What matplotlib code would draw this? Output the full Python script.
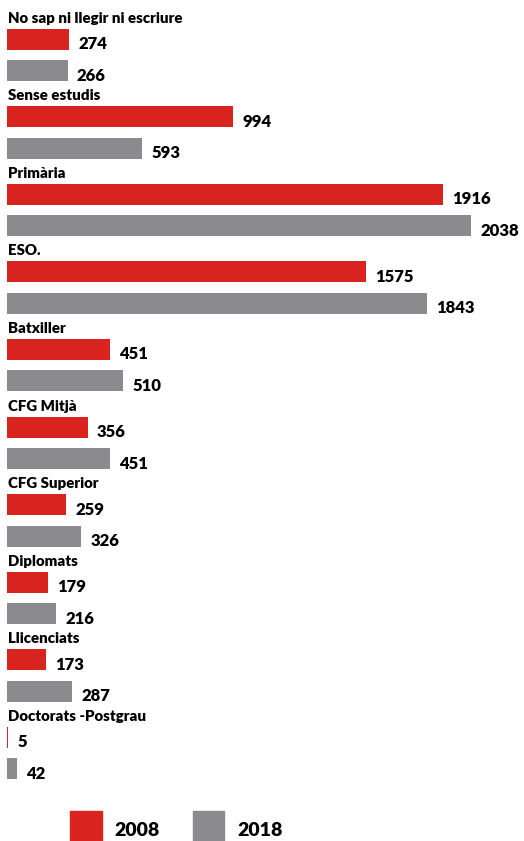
import matplotlib
matplotlib.use('Agg')
import matplotlib.pyplot as plt
from matplotlib.patches import Rectangle

categories = ['No sap ni llegir ni escriure', 'Sense estudis', 'Primària', 'ESO.',
              'Batxiller', 'CFG Mitjà', 'CFG Superior', 'Diplomats',
              'Llicenciats', 'Doctorats -Postgrau']
v2008 = [274, 994, 1916, 1575, 451, 356, 259, 179, 173, 5]
v2018 = [266, 593, 2038, 1843, 510, 451, 326, 216, 287, 42]
years = ['2008', '2018']

red = '#d8231f'
gray = '#8b8b8f'

plt.rcParams['font.family'] = ['Lato', 'DejaVu Sans']

fig = plt.figure(figsize=(5.24, 8.41), dpi=100)
ax = fig.add_axes([0, 0, 1, 1])
ax.set_xlim(-30.8, 2270)
ax.set_ylim(841, 0)
ax.axis('off')

group_step = 77.6
red_y = [39 + group_step * i for i in range(len(categories))]
gray_y = [y + 31.5 for y in red_y]

ax.barh(red_y, v2008, height=21, color=red, left=0)
ax.barh(gray_y, v2018, height=21, color=gray, left=0)

for cat, y in zip(categories, red_y):
    ax.text(6, y - 21, cat, fontsize=10.8, fontweight='heavy', ha='left', va='center')

for vals, ys in ((v2008, red_y), (v2018, gray_y)):
    for v, y in zip(vals, ys):
        ax.annotate(str(v), (v, y + 5), xytext=(9, 0), textcoords='offset pixels',
                    fontsize=12, fontweight='heavy', ha='left', va='center')

# legend
ax.add_patch(Rectangle((0.134, 0.0), 0.06, 0.036, transform=fig.transFigure, color=red))
ax.add_patch(Rectangle((0.368, 0.0), 0.06, 0.036, transform=fig.transFigure, color=gray))
fig.text(0.218, 0.013, years[0], fontsize=14, fontweight='heavy', va='center')
fig.text(0.453, 0.013, years[1], fontsize=14, fontweight='heavy', va='center')

fig.savefig('out.png', dpi=100, facecolor='white')
